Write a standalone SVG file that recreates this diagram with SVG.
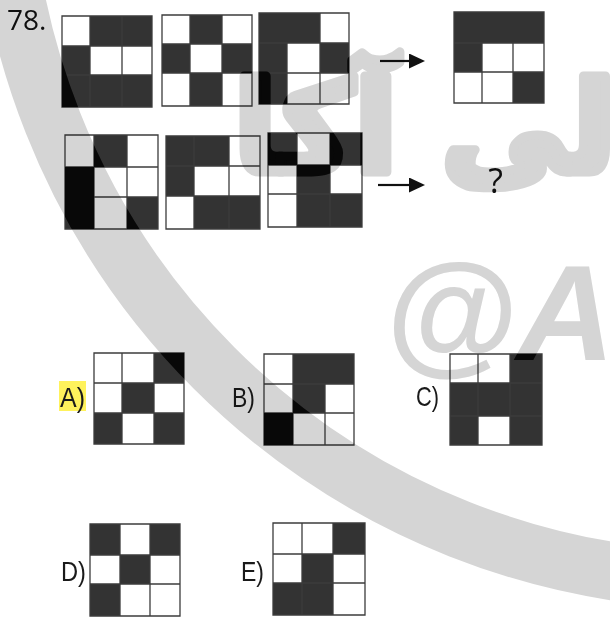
<svg xmlns="http://www.w3.org/2000/svg" xmlns:xlink="http://www.w3.org/1999/xlink" width="610" height="619" viewBox="0 0 610 619">
<style>
  .bg{fill:#ffffff}
  .d{fill:#333333}
  .ln{fill:none;stroke:#3c3c3c;stroke-width:1.3}
  .lbl{font-family:"Liberation Sans",Arial,sans-serif;font-size:28px;fill:#1a1a1a}
  .num{font-family:"Open Sans","Liberation Sans",sans-serif;font-size:28px;fill:#111111}
  .arr{stroke:#111111;stroke-width:2.2;fill:none}
  .wm-light{color:#d5d5d5;mix-blend-mode:multiply}
  .wm-dark{color:#080808}
</style>
<defs>
  <marker id="ah" markerUnits="userSpaceOnUse" markerWidth="17" markerHeight="15" refX="0" refY="7.5" orient="auto">
    <path d="M0,0 L16,7.5 L0,15 Z" fill="#111111"/>
  </marker>
  <g id="wm">
    <circle cx="726" cy="-144" r="724" fill="none" stroke="currentColor" stroke-width="58"/>
    <text x="616" y="172" text-anchor="end" font-family="DejaVu Sans, sans-serif" font-weight="bold" font-size="126" fill="currentColor" stroke="currentColor" stroke-width="9" stroke-linejoin="round">لی آکا</text>
    <text x="384" y="360" font-family="Liberation Sans, Arial, sans-serif" font-weight="bold" font-style="italic" font-size="136" fill="currentColor">@A</text>
  </g>
  <mask id="dkm" maskUnits="userSpaceOnUse" x="0" y="0" width="610" height="619" style="mask-type:alpha">
    <use href="#q1d"/><use href="#q2d"/><use href="#q3d"/><use href="#q4d"/>
    <use href="#q5d"/><use href="#q6d"/><use href="#q7d"/><use href="#q8d"/>
    <use href="#oAd"/><use href="#oBd"/><use href="#oCd"/><use href="#oDd"/><use href="#oEd"/>
  </mask>
</defs>
<rect x="0" y="0" width="610" height="619" fill="#ffffff"/>

<text class="num" x="7" y="30">78.</text>

<!-- Row 1 -->
<g id="q1">
  <rect class="bg" x="62" y="16" width="90" height="91"/>
  <g id="q1d">
    <rect class="d" x="90" y="16" width="62" height="30"/>
    <rect class="d" x="62" y="46" width="28" height="61"/>
    <rect class="d" x="90" y="75" width="62" height="32"/>
  </g>
  <path class="ln" d="M62,16H152V107H62Z M90,16V107 M122,16V107 M62,46H152 M62,75H152"/>
</g>
<g id="q2">
  <rect class="bg" x="162" y="15" width="90" height="91"/>
  <g id="q2d">
    <rect class="d" x="190" y="15" width="32" height="29"/>
    <rect class="d" x="162" y="44" width="28" height="29"/>
    <rect class="d" x="222" y="44" width="30" height="29"/>
    <rect class="d" x="190" y="73" width="32" height="33"/>
  </g>
  <path class="ln" d="M162,15H252V106H162Z M190,15V106 M222,15V106 M162,44H252 M162,73H252"/>
</g>
<g id="q3">
  <rect class="bg" x="259" y="13" width="90" height="91"/>
  <g id="q3d">
    <rect class="d" x="259" y="13" width="61" height="30"/>
    <rect class="d" x="259" y="43" width="28" height="61"/>
    <rect class="d" x="320" y="43" width="29" height="30"/>
  </g>
  <path class="ln" d="M259,13H349V104H259Z M287,43V104 M320,13V104 M259,43H349 M259,73H349"/>
</g>
<g id="q4">
  <rect class="bg" x="454" y="12" width="90" height="91"/>
  <g id="q4d">
    <rect class="d" x="454" y="12" width="90" height="31"/>
    <rect class="d" x="454" y="43" width="28" height="29"/>
    <rect class="d" x="513" y="72" width="31" height="31"/>
  </g>
  <path class="ln" d="M454,12H544V103H454Z M482,43V103 M513,43V103 M454,43H544 M454,72H544"/>
</g>

<!-- Row 2 -->
<g id="q5">
  <rect class="bg" x="65" y="135" width="93" height="94"/>
  <g id="q5d">
    <rect class="d" x="94" y="135" width="33" height="32"/>
    <rect class="d" x="65" y="167" width="29" height="62"/>
    <rect class="d" x="127" y="197" width="31" height="32"/>
  </g>
  <path class="ln" d="M65,135H158V229H65Z M94,135V229 M127,135V229 M65,167H158 M65,197H158"/>
</g>
<g id="q6">
  <rect class="bg" x="166" y="136" width="94" height="93"/>
  <g id="q6d">
    <rect class="d" x="166" y="136" width="63" height="30"/>
    <rect class="d" x="166" y="166" width="28" height="30"/>
    <rect class="d" x="194" y="196" width="66" height="33"/>
  </g>
  <path class="ln" d="M166,136H260V229H166Z M194,136V229 M229,136V229 M166,166H260 M166,196H260"/>
</g>
<g id="q7">
  <rect class="bg" x="268" y="133" width="94" height="94"/>
  <g id="q7d">
    <rect class="d" x="268" y="133" width="29" height="32"/>
    <rect class="d" x="330" y="133" width="32" height="32"/>
    <rect class="d" x="297" y="165" width="33" height="62"/>
    <rect class="d" x="330" y="194" width="32" height="33"/>
  </g>
  <path class="ln" d="M268,133H362V227H268Z M297,133V227 M330,133V227 M268,165H362 M268,194H362"/>
</g>
<g id="q8">
  <text x="495.5" y="193" text-anchor="middle" font-family="Open Sans, Liberation Sans, sans-serif" font-size="34" fill="#111111">?</text>
</g>

<!-- Options -->
<g id="optA">
  <rect x="59" y="381" width="27" height="30" fill="#fff25c"/>
  <text class="lbl" x="60" y="407" textLength="25" lengthAdjust="spacingAndGlyphs">A)</text>
  <rect class="bg" x="94" y="353" width="90" height="91"/>
  <g id="oAd">
    <rect class="d" x="154" y="353" width="30" height="30"/>
    <rect class="d" x="122" y="383" width="32" height="30"/>
    <rect class="d" x="94" y="413" width="28" height="31"/>
    <rect class="d" x="154" y="413" width="30" height="31"/>
  </g>
  <path class="ln" d="M94,353H184V444H94Z M122,353V444 M154,353V444 M94,383H184 M94,413H184"/>
</g>
<g id="optB">
  <text class="lbl" x="232" y="407" textLength="23" lengthAdjust="spacingAndGlyphs">B)</text>
  <rect class="bg" x="264" y="354" width="90" height="91"/>
  <g id="oBd">
    <rect class="d" x="293" y="354" width="61" height="30"/>
    <rect class="d" x="293" y="384" width="32" height="29"/>
    <rect class="d" x="264" y="413" width="29" height="32"/>
  </g>
  <path class="ln" d="M264,354H354V445H264Z M293,354V445 M325,384V445 M264,384H354 M264,413H354"/>
</g>
<g id="optC">
  <text class="lbl" x="416" y="406" textLength="23" lengthAdjust="spacingAndGlyphs">C)</text>
  <rect class="bg" x="450" y="354" width="92" height="91"/>
  <g id="oCd">
    <rect class="d" x="510" y="354" width="32" height="29"/>
    <rect class="d" x="450" y="383" width="92" height="33"/>
    <rect class="d" x="450" y="416" width="28" height="29"/>
    <rect class="d" x="510" y="416" width="32" height="29"/>
  </g>
  <path class="ln" d="M450,354H542V445H450Z M478,354V445 M510,354V445 M450,383H542 M450,416H542"/>
</g>
<g id="optD">
  <text class="lbl" x="61" y="581" textLength="25" lengthAdjust="spacingAndGlyphs">D)</text>
  <rect class="bg" x="90" y="524" width="90" height="92"/>
  <g id="oDd">
    <rect class="d" x="90" y="524" width="30" height="31"/>
    <rect class="d" x="150" y="524" width="30" height="31"/>
    <rect class="d" x="120" y="555" width="30" height="29"/>
    <rect class="d" x="90" y="584" width="30" height="32"/>
  </g>
  <path class="ln" d="M90,524H180V616H90Z M120,524V616 M150,524V616 M90,555H180 M90,584H180"/>
</g>
<g id="optE">
  <text class="lbl" x="241" y="581" textLength="23" lengthAdjust="spacingAndGlyphs">E)</text>
  <rect class="bg" x="273" y="523" width="92" height="92"/>
  <g id="oEd">
    <rect class="d" x="333" y="523" width="32" height="31"/>
    <rect class="d" x="302" y="554" width="31" height="29"/>
    <rect class="d" x="273" y="583" width="60" height="32"/>
  </g>
  <path class="ln" d="M273,523H365V615H273Z M302,523V615 M333,523V615 M273,554H365 M273,583H365"/>
</g>

<g id="connectors">
  <line class="arr" x1="380" y1="61" x2="409" y2="61" marker-end="url(#ah)"/>
  <line class="arr" x1="378" y1="185" x2="409" y2="185" marker-end="url(#ah)"/>
</g>

<g id="watermark">
  <use href="#wm" class="wm-light"/>
  <use href="#wm" class="wm-dark" mask="url(#dkm)"/>
</g>
</svg>
